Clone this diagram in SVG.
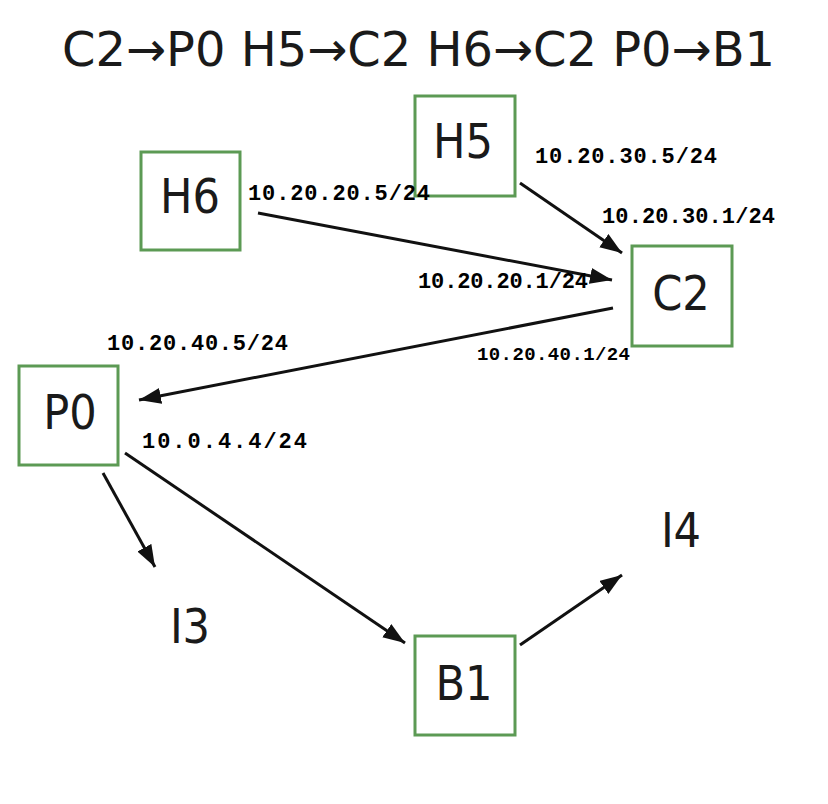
<svg xmlns="http://www.w3.org/2000/svg" width="828" height="804" viewBox="0 0 828 804">
<style>
.box{fill:#ffffff;stroke:#5c9a54;stroke-width:3}
.nl{font-family:"DejaVu Sans Condensed","DejaVu Sans",sans-serif;font-stretch:condensed;font-size:48px;fill:#1a1a1a;text-anchor:middle}
.ip{font-family:"Liberation Mono","Courier New",monospace;font-weight:bold;font-size:22px;fill:#000}
.title{font-family:"DejaVu Sans",sans-serif;font-size:48px;fill:#1a1a1a}
.edge{stroke:#111;stroke-width:3;fill:none;marker-end:url(#ah)}
</style>
<defs>
<marker id="ah" markerUnits="userSpaceOnUse" markerWidth="24" markerHeight="18" refX="22" refY="8" orient="auto">
<path d="M0,0 L22,8 L0,16 z" fill="#111"/>
</marker>
</defs>
<rect width="828" height="804" fill="#ffffff"/>
<text class="title" x="62" y="66" textLength="713" lengthAdjust="spacingAndGlyphs">C2→P0 H5→C2 H6→C2 P0→B1</text>
<g id="connectors">
<line class="edge" x1="258" y1="213" x2="612" y2="280"/>
<line class="edge" x1="520" y1="183" x2="622" y2="253"/>
<line class="edge" x1="613" y1="308" x2="139" y2="400"/>
<line class="edge" x1="103" y1="473" x2="155" y2="567"/>
<line class="edge" x1="125" y1="453" x2="405" y2="643"/>
<line class="edge" x1="520" y1="645" x2="622" y2="575"/>
</g>
<g id="H6"><rect class="box" x="141" y="152" width="99" height="98"/><text class="nl" x="190" y="213">H6</text></g>
<g id="H5"><rect class="box" x="415" y="96" width="100" height="100"/><text class="nl" x="463" y="158">H5</text></g>
<g id="C2"><rect class="box" x="632" y="246" width="100" height="100"/><text class="nl" x="681" y="310">C2</text></g>
<g id="P0"><rect class="box" x="19" y="366" width="99" height="99"/><text class="nl" x="70" y="429">P0</text></g>
<g id="B1"><rect class="box" x="415" y="636" width="100" height="99"/><text class="nl" x="464" y="700">B1</text></g>
<g id="I3"><text class="nl" x="190" y="643">I3</text></g>
<g id="I4"><text class="nl" x="681" y="547">I4</text></g>
<g id="labels">
<text class="ip" x="248" y="200" textLength="182" lengthAdjust="spacing">10.20.20.5/24</text>
<text class="ip" x="535" y="163" textLength="182" lengthAdjust="spacing">10.20.30.5/24</text>
<text class="ip" x="602" y="223" textLength="173" lengthAdjust="spacing">10.20.30.1/24</text>
<text class="ip" x="418" y="288" textLength="170" lengthAdjust="spacing">10.20.20.1/24</text>
<text class="ip" x="477" y="360" style="font-size:19px" textLength="153" lengthAdjust="spacing">10.20.40.1/24</text>
<text class="ip" x="107" y="350" textLength="181" lengthAdjust="spacing">10.20.40.5/24</text>
<text class="ip" x="142" y="448" textLength="165" lengthAdjust="spacing">10.0.4.4/24</text>
</g>
</svg>
